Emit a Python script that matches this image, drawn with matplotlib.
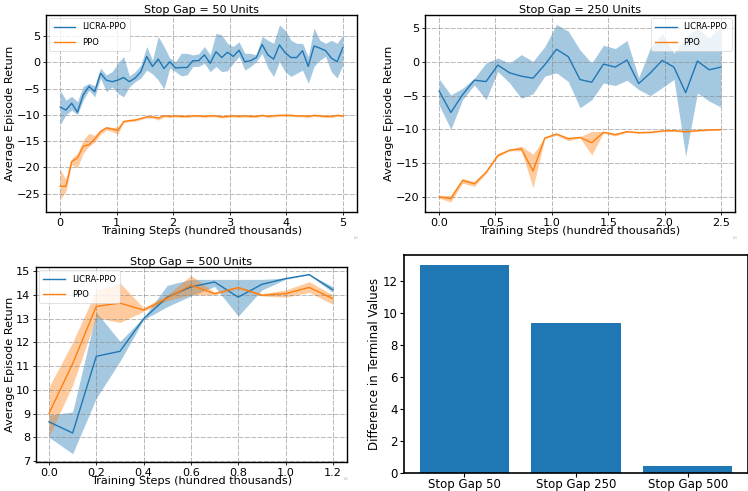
import numpy as np
import matplotlib
matplotlib.use("Agg")
import matplotlib.pyplot as plt

# ---------------- data ----------------
# Stop Gap = 50 Units (x: 0..5, 50 evaluations)
x50 = np.linspace(0, 5, 50)
licra50 = [-8.5, -9.1, -7.8, -9.5, -6.2, -4.6, -5.6, -2.1, -3.4, -3.7,
           -3.4, -2.9, -3.7, -3.0, -1.8, 1.1, -0.8, 0.6, -1.2, 0.1,
           -1.1, -1.0, -1.0, 0.3, 0.3, 1.4, -0.2, 2.0, 0.9, 1.9,
           1.1, 2.3, 0.1, 0.3, 0.9, 3.4, 1.4, 0.6, 3.3, 1.8,
           0.9, 0.9, 2.2, -0.8, 3.1, 2.7, 2.2, 0.8, 0.1, 2.8]
licra50_hi = [-5.3, -7.2, -6.5, -7.5, -4.6, -4.0, -4.5, -1.1, -2.4, -1.8,
              -0.2, 1.1, -2.6, -1.8, -0.5, 3.0, 0.4, 4.9, 3.0, 0.8,
              0.1, 1.7, 1.7, 1.4, 1.6, 3.0, 1.4, 5.5, 5.2, 3.6,
              3.0, 3.9, 1.7, 1.7, 1.4, 4.9, 4.2, 3.6, 7.1, 6.1,
              4.2, 3.6, 3.6, 1.1, 6.5, 4.2, 3.6, 4.2, 3.6, 5.2]
licra50_lo = [-11.9, -10.0, -9.1, -10.0, -7.2, -5.3, -6.6, -3.0, -5.6, -4.7,
              -5.9, -6.6, -4.7, -3.7, -3.0, -1.5, -2.2, -3.4, -5.1, -1.1,
              -1.8, -2.6, -2.4, -0.8, -0.8, -0.2, -1.8, -0.8, -1.8, -1.6,
              -0.2, 1.1, -1.5, -0.8, 0.1, 1.7, -1.1, -2.7, 0.1, -1.8,
              -2.7, -2.1, -1.5, -4.0, -0.8, 0.4, 1.1, -1.8, -3.0, -0.5]
ppo50 = [-23.6, -23.6, -18.9, -18.2, -16.0, -15.7, -14.6, -13.2, -12.5, -12.7,
         -13.0, -11.3, -11.1, -11.0, -10.7, -10.4, -10.4, -10.6, -10.2, -10.3,
         -10.2, -10.3, -10.3, -10.2, -10.2, -10.3, -10.2, -10.2, -10.4, -10.3,
         -10.2, -10.3, -10.2, -10.3, -10.3, -10.1, -10.3, -10.2, -10.1, -10.1,
         -10.1, -10.2, -10.2, -10.3, -10.1, -10.2, -10.3, -10.3, -10.1, -10.2]
ppo50_hi = [-20.4, -22.3, -18.3, -17.3, -14.8, -13.5, -13.9, -12.8, -12.2, -12.4,
            -12.3, -11.1, -10.9, -10.8, -10.5, -10.2, -10.2, -10.4, -10.0, -10.1,
            -10.0, -10.1, -10.1, -10.0, -10.0, -10.1, -10.0, -10.0, -10.2, -10.1,
            -10.0, -10.1, -10.0, -10.1, -10.1, -9.9, -10.1, -10.0, -9.9, -9.9,
            -9.9, -10.0, -10.0, -10.1, -9.9, -10.0, -10.1, -10.1, -9.9, -10.0]
ppo50_lo = [-26.1, -24.6, -19.5, -20.1, -17.3, -16.0, -15.2, -13.7, -12.9, -13.2,
            -13.7, -11.5, -11.3, -11.2, -10.9, -10.6, -10.6, -11.0, -10.4, -10.5,
            -10.4, -10.5, -10.5, -10.4, -10.4, -10.5, -10.4, -10.4, -10.6, -10.5,
            -10.4, -10.5, -10.4, -10.5, -10.5, -10.3, -10.5, -10.4, -10.3, -10.3,
            -10.3, -10.4, -10.4, -10.5, -10.3, -10.4, -10.5, -10.5, -10.3, -10.4]

# Stop Gap = 250 Units (x: 0..2.5, 25 evaluations)
x250 = np.linspace(0, 2.5, 25)
licra250 = [-4.3, -7.5, -4.85, -2.7, -2.9, -0.45, -1.6, -2.1, -2.4, -0.4,
            1.9, 0.8, -2.6, -3.0, -0.3, -0.75, 0.3, -3.2, -1.6, 0.25,
            -0.75, -4.55, 0.15, -1.15, -0.75]
licra250_hi = [-2.5, -4.9, -3.9, -2.4, -0.15, 0.6, -0.15, 1.1, 0.1, 2.3,
               5.6, 4.6, 1.8, -0.15, 2.5, 2.0, 3.2, -2.3, 2.1, 4.3,
               1.3, 3.8, 5.0, 3.6, 5.3]
licra250_lo = [-6.4, -10.0, -5.6, -3.4, -5.6, -1.4, -3.1, -5.4, -4.7, -2.1,
               -1.6, -2.9, -6.8, -5.6, -3.1, -3.5, -2.7, -4.1, -5.0, -3.8,
               -2.6, -14.0, -4.6, -5.8, -6.7]
ppo250 = [-20.05, -20.3, -17.6, -18.1, -16.4, -13.9, -13.1, -12.9, -16.2, -11.3,
          -10.7, -11.4, -11.2, -12.0, -10.45, -10.8, -10.35, -10.5, -10.45, -10.25,
          -10.2, -10.35, -10.2, -10.1, -10.05]
ppo250_hi = [-19.85, -19.8, -17.3, -17.8, -16.2, -13.6, -13.0, -12.5, -13.7, -11.2,
             -10.6, -11.2, -11.1, -10.3, -10.35, -10.6, -10.25, -10.4, -10.35, -10.15,
             -10.1, -10.25, -10.1, -10.0, -9.95]
ppo250_lo = [-20.25, -20.8, -18.0, -18.5, -16.6, -14.1, -13.2, -13.2, -18.7, -11.4,
             -10.9, -11.7, -11.3, -13.8, -10.55, -11.0, -10.45, -10.6, -10.55, -10.35,
             -10.3, -10.45, -10.3, -10.2, -10.15]

# Stop Gap = 500 Units (x: 0..1.2, 13 evaluations)
x500 = np.linspace(0, 1.2, 13)
licra500 = [8.65, 8.18, 11.41, 11.62, 12.99, 13.9, 14.33, 14.54, 13.9, 14.44,
            14.68, 14.85, 14.21]
licra500_hi = [8.93, 9.07, 13.27, 12.04, 13.05, 14.4, 14.65, 14.65, 14.65, 14.65,
               14.7, 14.86, 14.35]
licra500_lo = [8.0, 7.31, 9.65, 11.2, 12.95, 13.5, 13.95, 14.35, 13.1, 14.2,
               14.65, 14.84, 14.1]
ppo500 = [9.0, 11.1, 13.51, 13.65, 13.36, 13.86, 14.4, 14.05, 14.31, 13.98,
          14.05, 14.31, 13.84]
ppo500_hi = [10.12, 12.0, 14.19, 14.5, 13.45, 14.0, 14.82, 14.1, 14.35, 14.05,
             14.2, 14.55, 14.0]
ppo500_lo = [8.02, 10.2, 13.04, 12.83, 13.3, 13.75, 14.0, 14.0, 14.25, 13.95,
             13.9, 14.1, 13.6]

# Bar chart
bar_labels = ["Stop Gap 50", "Stop Gap 250", "Stop Gap 500"]
bar_values = [12.96, 9.33, 0.42]

# ---------------- plotting ----------------
BLUE = "#1f77b4"
ORANGE = "#ff7f0e"
FS = 8.1

fig = plt.figure(figsize=(7.48, 4.91), dpi=100)


def line_panel(rect, title, x, l, lh, ll, p, ph, pl, xlim, ylim, xticks, yticks,
               legend_loc):
    ax = fig.add_axes(rect)
    ax.fill_between(x, ll, lh, color=BLUE, alpha=0.4, lw=0)
    ax.fill_between(x, pl, ph, color=ORANGE, alpha=0.4, lw=0)
    ax.plot(x, l, color=BLUE, lw=1.0, label="LICRA-PPO")
    ax.plot(x, p, color=ORANGE, lw=1.0, label="PPO")
    ax.set_xlim(*xlim)
    ax.set_ylim(*ylim)
    ax.set_xticks(xticks)
    ax.set_yticks(yticks)
    ax.tick_params(labelsize=FS, length=2.5, width=0.6, pad=1.5)
    ax.set_title(title, fontsize=FS, pad=1.5)
    ax.set_xlabel("Training Steps (hundred thousands)", fontsize=FS, labelpad=-1)
    ax.set_ylabel("Average Episode Return", fontsize=FS, labelpad=1)
    ax.grid(True, ls="--", color="gray", alpha=0.55, lw=0.7, dashes=(5, 1.5))
    for s in ax.spines.values():
        s.set_linewidth(1.0)
    leg = ax.legend(loc=legend_loc, fontsize=6.0, handlelength=2.6,
                    borderpad=0.5, labelspacing=0.75, fancybox=True,
                    framealpha=0.8, borderaxespad=0.4)
    leg.get_frame().set_linewidth(0.5)
    return ax


ax1 = line_panel([0.0615, 0.5682, 0.4158, 0.4013], "Stop Gap = 50 Units",
                 x50, licra50, licra50_hi, licra50_lo, ppo50, ppo50_hi, ppo50_lo,
                 (-0.25, 5.25), (-28.5, 9.0), [0, 1, 2, 3, 4, 5],
                 [-25, -20, -15, -10, -5, 0, 5], "upper left")
ax2 = line_panel([0.5682, 0.5682, 0.4144, 0.4013], "Stop Gap = 250 Units",
                 x250, licra250, licra250_hi, licra250_lo, ppo250, ppo250_hi, ppo250_lo,
                 (-0.125, 2.625), (-22.3, 7.0), [0.0, 0.5, 1.0, 1.5, 2.0, 2.5],
                 [-20, -15, -10, -5, 0, 5], "upper right")
ax3 = line_panel([0.0481, 0.0591, 0.4158, 0.3971], "Stop Gap = 500 Units",
                 x500, licra500, licra500_hi, licra500_lo, ppo500, ppo500_hi, ppo500_lo,
                 (-0.055, 1.26), (6.96, 15.17), [0.0, 0.2, 0.4, 0.6, 0.8, 1.0, 1.2],
                 [7, 8, 9, 10, 11, 12, 13, 14, 15], "upper left")
ax1.xaxis.set_major_formatter(matplotlib.ticker.FormatStrFormatter("%d"))

# tiny offset markers
for xx, yy in [(0.473, 0.514), (0.979, 0.514), (0.459, 0.022)]:
    fig.text(xx, yy, "1e5", fontsize=2, color="#aaaaaa")

ax4 = fig.add_axes([0.5401, 0.0367, 0.4599, 0.444])
ax4.bar(range(len(bar_values)), bar_values, width=0.8, color=BLUE)
ax4.set_xticks(range(len(bar_values)))
ax4.set_xticklabels(bar_labels)
ax4.set_xlim(-0.54, 2.54)
ax4.set_ylim(0, 13.6)
ax4.set_yticks([0, 2, 4, 6, 8, 10, 12])
ax4.tick_params(labelsize=8.5, length=3, width=0.8, pad=1.5)
ax4.tick_params(axis="x", pad=0.5)
ax4.set_ylabel("Difference in Terminal Values", fontsize=8.5, labelpad=1)
for s in ax4.spines.values():
    s.set_linewidth(1.2)

fig.savefig("out.png", dpi=100)
